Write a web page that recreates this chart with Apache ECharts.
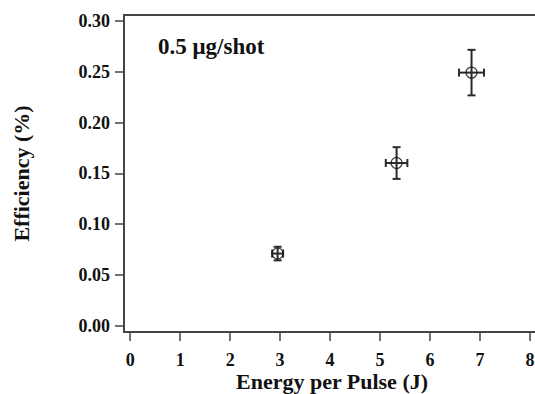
<!DOCTYPE html>
<html>
<head>
<meta charset="utf-8">
<script src="https://cdn.jsdelivr.net/npm/echarts@6/dist/echarts.min.js"></script>
<style>html,body{margin:0;padding:0;background:#fff;}#c{width:535px;height:394px;}</style>
</head>
<body>
<div id="c"></div>
<script>
// Data
const energy = [2.95, 5.33, 6.83];          // J
const energyErr = [0.11, 0.216, 0.25];      // J (half-width)
const efficiency = [0.0711, 0.1602, 0.2492]; // %
const efficiencyErr = [0.0067, 0.0156, 0.0224];
const xTicks = [0, 1, 2, 3, 4, 5, 6, 7, 8];
const yTicks = [0, 0.05, 0.10, 0.15, 0.20, 0.25, 0.30];
const annotation = '0.5 μg/shot';

const FONT = '"Liberation Serif", "Times New Roman", serif';
const AXC = '#444';
const X_MIN = -0.124, X_MAX = 8.20, Y_MIN = -0.0061, Y_MAX = 0.3059;

const points = energy.map((x, i) => [x, efficiency[i]]);
const errData = energy.map((x, i) => [x, efficiency[i], energyErr[i], efficiencyErr[i]]);

const chart = echarts.init(document.getElementById('c'), null, {renderer: 'svg'});
chart.setOption({
  animation: false,
  backgroundColor: '#fff',
  title: {
    text: annotation,
    left: 153, top: 30,
    textStyle: {fontFamily: FONT, fontWeight: 'bold', fontSize: 23, color: '#111'}
  },
  grid: {left: 124, top: 15, right: -5, bottom: 62, containLabel: false, outerBoundsMode: 'none'},
  xAxis: [{
    type: 'value', min: X_MIN, max: X_MAX, position: 'bottom',
    axisLine: {show: true, onZero: false, lineStyle: {color: AXC, width: 2}},
    splitLine: {show: false},
    axisTick: {show: true, inside: false, length: 9, customValues: xTicks, lineStyle: {color: AXC, width: 1.5}},
    axisLabel: {customValues: xTicks, margin: 19, fontFamily: FONT, fontWeight: 'bold', fontSize: 18, color: '#111'},
    name: 'Energy per Pulse (J)', nameLocation: 'middle', nameGap: 38, nameMoveOverlap: false,
    nameTextStyle: {fontFamily: FONT, fontWeight: 'bold', fontSize: 22, color: '#111'}
  }, {
    type: 'value', min: X_MIN, max: X_MAX, position: 'top',
    axisLine: {show: true, onZero: false, lineStyle: {color: AXC, width: 2}},
    splitLine: {show: false}, axisTick: {show: false}, axisLabel: {show: false}
  }],
  yAxis: {
    type: 'value', min: Y_MIN, max: Y_MAX,
    axisLine: {show: true, onZero: false, lineStyle: {color: AXC, width: 2}},
    splitLine: {show: false},
    axisTick: {show: true, inside: false, length: 9, customValues: yTicks, lineStyle: {color: AXC, width: 1.5}},
    axisLabel: {customValues: yTicks, margin: 14, formatter: v => v.toFixed(2), fontFamily: FONT, fontWeight: 'bold', fontSize: 18, color: '#111'},
    name: 'Efficiency (%)', nameLocation: 'middle', nameGap: 92, nameMoveOverlap: false,
    nameTextStyle: {fontFamily: FONT, fontWeight: 'bold', fontSize: 22, color: '#111'}
  },
  series: [
    {
      type: 'custom',
      data: errData,
      renderItem: function (params, api) {
        const x = api.value(0), y = api.value(1), dx = api.value(2), dy = api.value(3);
        const c = api.coord([x, y]);
        const l = api.coord([x - dx, y]);
        const r = api.coord([x + dx, y]);
        const t = api.coord([x, y + dy]);
        const b = api.coord([x, y - dy]);
        const cap = 4;
        const st = {stroke: '#2a2a2a', lineWidth: 2};
        return {
          type: 'group',
          children: [
            {type: 'line', shape: {x1: l[0], y1: c[1], x2: r[0], y2: c[1]}, style: st},
            {type: 'line', shape: {x1: l[0], y1: c[1] - cap, x2: l[0], y2: c[1] + cap}, style: st},
            {type: 'line', shape: {x1: r[0], y1: c[1] - cap, x2: r[0], y2: c[1] + cap}, style: st},
            {type: 'line', shape: {x1: c[0], y1: t[1], x2: c[0], y2: b[1]}, style: st},
            {type: 'line', shape: {x1: c[0] - cap, y1: t[1], x2: c[0] + cap, y2: t[1]}, style: st},
            {type: 'line', shape: {x1: c[0] - cap, y1: b[1], x2: c[0] + cap, y2: b[1]}, style: st}
          ]
        };
      },
      z: 2
    },
    {
      type: 'scatter',
      data: points,
      symbol: 'circle',
      symbolSize: 11,
      itemStyle: {color: 'transparent', borderColor: '#111', borderWidth: 1.2},
      z: 3
    }
  ]
});
</script>
</body>
</html>
